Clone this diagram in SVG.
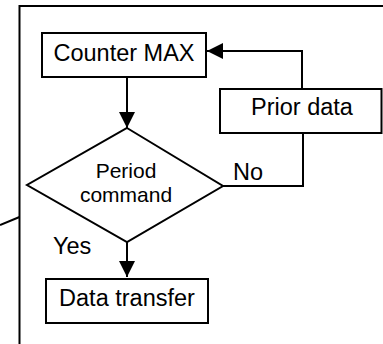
<svg xmlns="http://www.w3.org/2000/svg" width="383" height="344" viewBox="0 0 383 344">
<style>
.box{fill:#fff;stroke:#000;stroke-width:2}
.ln{fill:none;stroke:#000;stroke-width:2}
.t{font-family:"Liberation Sans",Arial,sans-serif;font-size:23.5px;fill:#000}
.s{font-family:"Liberation Sans",Arial,sans-serif;font-size:21px;fill:#000}
</style>
<defs>
<marker id="ah" markerUnits="userSpaceOnUse" markerWidth="16" markerHeight="16" refX="16" refY="8" orient="auto">
<path d="M0,0 L16,8 L0,16 Z" fill="#000"/>
</marker>
</defs>
<g id="frame">
<path class="ln" d="M383,6 H19.5 V344"/>
<path class="ln" d="M0,225 L19.5,217"/>
</g>
<g id="connectors">
<path class="ln" d="M127,77 V128" marker-end="url(#ah)"/>
<path class="ln" d="M302,89 V51 H207" marker-end="url(#ah)"/>
<path class="ln" d="M303,133 V186 H223"/>
<path class="ln" d="M127,242 V277" marker-end="url(#ah)"/>
</g>
<g id="counter-max">
<rect class="box" x="42" y="33" width="164" height="44"/>
<text class="t" x="124" y="61" text-anchor="middle">Counter MAX</text>
</g>
<g id="prior-data">
<rect class="box" x="220" y="89" width="161.5" height="44"/>
<text class="t" x="302" y="115" text-anchor="middle">Prior data</text>
</g>
<g id="period-command">
<polygon class="box" points="127,128 223,186 127,242 27,185"/>
<text class="s" x="126" y="178" text-anchor="middle">Period</text>
<text class="s" x="126" y="201.5" text-anchor="middle">command</text>
</g>
<g id="data-transfer">
<rect class="box" x="46" y="279" width="162" height="44"/>
<text class="t" x="127" y="306" text-anchor="middle">Data transfer</text>
</g>
<g id="labels">
<text class="t" x="233" y="180">No</text>
<text class="t" x="53" y="254">Yes</text>
</g>
</svg>
